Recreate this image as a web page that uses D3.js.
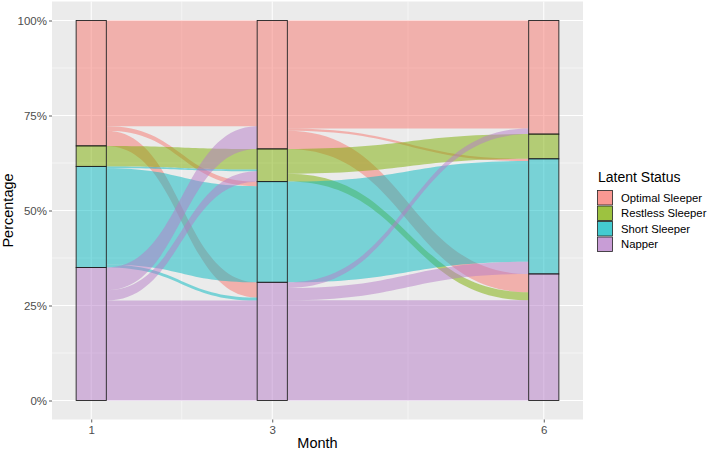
<!DOCTYPE html>
<html lang="en">
<head>
<meta charset="utf-8">
<title>Latent Status alluvial</title>
<script src="https://d3js.org/d3.v7.min.js"></script>
<style>
  body { margin: 0; background: #fff; }
  svg { font-family: "Liberation Sans", Arial, Helvetica, sans-serif; }
</style>
</head>
<body>
<div id="canvas"></div>
<script>
// months on the x axis
const months = [1, 3, 6];
const statuses = ["Optimal Sleeper", "Restless Sleeper", "Short Sleeper", "Napper"];
const colors = ["#F8766D", "#7CAE00", "#06B9C1", "#B67CC8"];
const yTicks = [0, 0.25, 0.5, 0.75, 1];
const yMinor = [0.125, 0.375, 0.625, 0.875];
const xMinor = [2, 4.5];

// flows in percent, rows = status at the earlier month, cols = status at the later month
const flow1to3 = [
  [27.8, 0, 1.2, 4.0],
  [0, 5.4, 0, 0],
  [0, 0.5, 25.3, 0.8],
  [6.0, 2.7, 0, 26.3]
];
const flow3to6 = [
  [28.4, 0, 0.6, 4.8],
  [0, 6.5, 0, 2.1],
  [0, 0, 26.5, 0],
  [1.5, 0, 3.2, 26.4]
];
const flows = [flow1to3, flow3to6];

const width = 709, height = 451;
const panel = {left: 52, right: 583, top: 1.5, bottom: 419.5};
const stratumWidth = 1 / 3;

const x = d3.scaleLinear()
  .domain([months[0] - stratumWidth / 2 - 0.2667, months[2] + stratumWidth / 2 + 0.2667])
  .range([panel.left, panel.right]);
const y = d3.scaleLinear().domain([-0.05, 1.05]).range([panel.bottom, panel.top]);

// stratum sizes per month, from the flow tables
const rowSums = m => m.map(r => d3.sum(r));
const colSums = m => m[0].map((_, j) => d3.sum(m, r => r[j]));
const strata = [rowSums(flow1to3), colSums(flow1to3), colSums(flow3to6)];

function stack(sizes) {
  // first status on top
  let top = 100;
  return sizes.map(s => { const o = {top: top, bottom: top - s}; top -= s; return o; });
}
const stacks = strata.map(stack);

const svg = d3.select("#canvas").append("svg")
  .attr("width", width).attr("height", height);

// panel
svg.append("rect")
  .attr("x", panel.left).attr("y", panel.top)
  .attr("width", panel.right - panel.left).attr("height", panel.bottom - panel.top)
  .attr("fill", "#EBEBEB");

const grid = svg.append("g").attr("stroke", "#fff");
grid.selectAll(".ymin").data(yMinor).join("line")
  .attr("x1", panel.left).attr("x2", panel.right)
  .attr("y1", d => y(d)).attr("y2", d => y(d)).attr("stroke-width", 0.5);
grid.selectAll(".xmin").data(xMinor).join("line")
  .attr("y1", panel.top).attr("y2", panel.bottom)
  .attr("x1", d => x(d)).attr("x2", d => x(d)).attr("stroke-width", 0.5);
grid.selectAll(".ymaj").data(yTicks).join("line")
  .attr("x1", panel.left).attr("x2", panel.right)
  .attr("y1", d => y(d)).attr("y2", d => y(d)).attr("stroke-width", 1);
grid.selectAll(".xmaj").data(months).join("line")
  .attr("y1", panel.top).attr("y2", panel.bottom)
  .attr("x1", d => x(d)).attr("x2", d => x(d)).attr("stroke-width", 1);

// flows
const flowData = [];
flows.forEach((mat, k) => {
  const srcStack = stacks[k], dstStack = stacks[k + 1];
  const srcOff = srcStack.map(s => s.top);
  const dstOff = dstStack.map(s => s.top);
  // source side ordered by destination, destination side ordered by source
  const dstPos = mat.map(() => []);
  for (let j = 0; j < 4; j++) {
    for (let i = 0; i < 4; i++) {
      const v = mat[i][j];
      if (v > 0) { dstPos[i][j] = dstOff[j]; dstOff[j] -= v; }
    }
  }
  for (let i = 0; i < 4; i++) {
    for (let j = 0; j < 4; j++) {
      const v = mat[i][j];
      if (v <= 0) continue;
      flowData.push({
        from: i, to: j,
        x0: months[k] + stratumWidth / 2, x1: months[k + 1] - stratumWidth / 2,
        s0: srcOff[i], s1: srcOff[i] - v,
        d0: dstPos[i][j], d1: dstPos[i][j] - v
      });
      srcOff[i] -= v;
    }
  }
});

function flowPath(f) {
  const x0 = x(f.x0), x1 = x(f.x1), xm = (x0 + x1) / 2;
  const p = d3.path();
  p.moveTo(x0, y(f.s0 / 100));
  p.bezierCurveTo(xm, y(f.s0 / 100), xm, y(f.d0 / 100), x1, y(f.d0 / 100));
  p.lineTo(x1, y(f.d1 / 100));
  p.bezierCurveTo(xm, y(f.d1 / 100), xm, y(f.s1 / 100), x0, y(f.s1 / 100));
  p.closePath();
  return p.toString();
}

svg.append("g").selectAll("path").data(flowData).join("path")
  .attr("d", flowPath)
  .attr("fill", d => colors[d.from])
  .attr("fill-opacity", 0.5);

// strata
const strataData = [];
stacks.forEach((st, k) => st.forEach((s, i) => strataData.push({month: months[k], status: i, top: s.top, bottom: s.bottom})));
svg.append("g").selectAll("rect").data(strataData).join("rect")
  .attr("x", d => x(d.month - stratumWidth / 2))
  .attr("width", d => x(d.month + stratumWidth / 2) - x(d.month - stratumWidth / 2))
  .attr("y", d => y(d.top / 100))
  .attr("height", d => y(d.bottom / 100) - y(d.top / 100))
  .attr("fill", d => colors[d.status])
  .attr("fill-opacity", 0.5)
  .attr("stroke", "#222")
  .attr("stroke-width", 0.9);

// axes
const yAxis = svg.append("g")
  .attr("transform", `translate(${panel.left},0)`)
  .call(d3.axisLeft(y).tickValues(yTicks).tickFormat(d3.format(".0%")).tickSize(3).tickPadding(2));
const xAxis = svg.append("g")
  .attr("transform", `translate(0,${panel.bottom})`)
  .call(d3.axisBottom(x).tickValues(months).tickFormat(d3.format("d")).tickSize(3).tickPadding(3));
[yAxis, xAxis].forEach(a => {
  a.select(".domain").remove();
  a.selectAll(".tick line").attr("stroke", "#333333").attr("stroke-width", 0.8);
  a.selectAll(".tick text").attr("fill", "#4D4D4D").attr("font-size", 11.5)
    .attr("font-family", "Liberation Sans, Arial, sans-serif");
});

svg.append("text")
  .attr("x", (panel.left + panel.right) / 2).attr("y", 448)
  .attr("text-anchor", "middle").attr("font-size", 14.5).attr("fill", "#000")
  .text("Month");
svg.append("text")
  .attr("transform", `translate(13,${(panel.top + panel.bottom) / 2}) rotate(-90)`)
  .attr("text-anchor", "middle").attr("font-size", 14.5).attr("fill", "#000")
  .text("Percentage");

// legend
const legend = svg.append("g").attr("transform", "translate(597,0)");
legend.append("text").attr("x", 1).attr("y", 182).attr("font-size", 14).text("Latent Status");
const keyH = 15.5;
const keys = legend.selectAll(".key").data(statuses).join("g")
  .attr("transform", (d, i) => `translate(0,${190 + i * keyH})`);
keys.append("rect").attr("width", 16).attr("height", keyH)
  .attr("fill", "#fff");
keys.append("rect").attr("x", 0.5).attr("y", 0.5).attr("width", 15).attr("height", keyH - 1)
  .attr("fill", (d, i) => colors[i]).attr("fill-opacity", 0.75)
  .attr("stroke", "#222").attr("stroke-width", 0.8);
keys.append("text").attr("x", 24).attr("y", keyH / 2).attr("dy", "0.35em")
  .attr("font-size", 11.3).attr("fill", "#000").text(d => d);
</script>
</body>
</html>
